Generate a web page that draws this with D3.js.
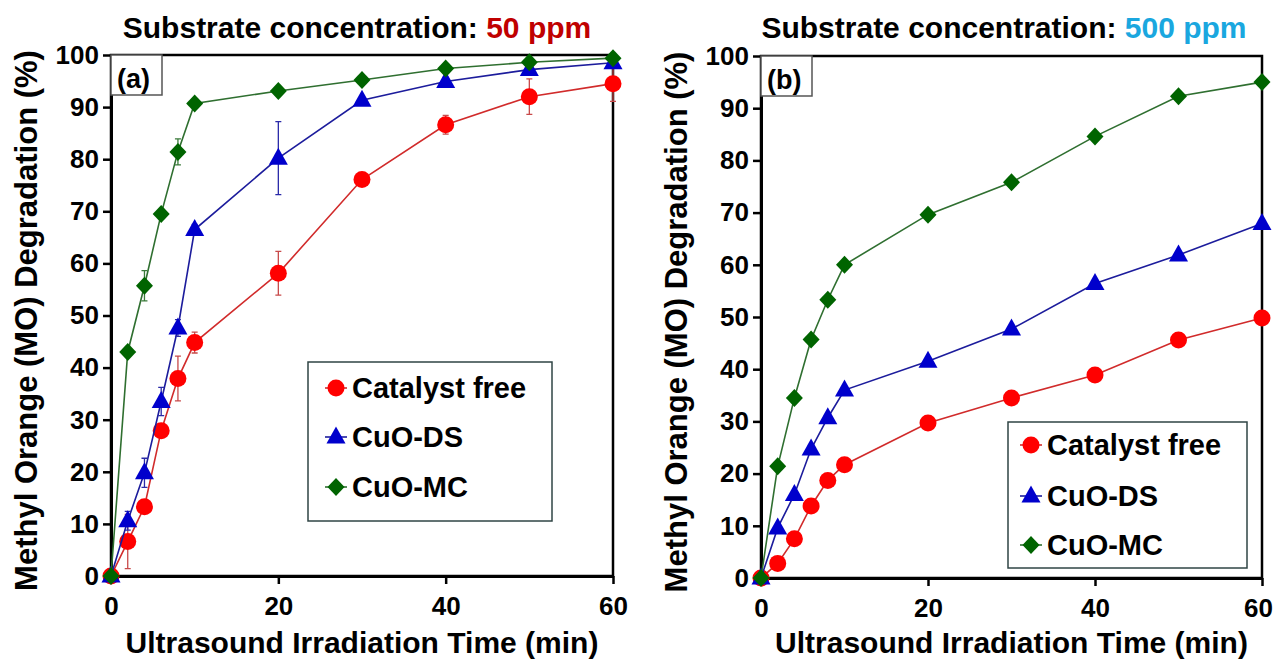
<!DOCTYPE html>
<html>
<head>
<meta charset="utf-8">
<script src="https://cdn.jsdelivr.net/npm/d3@7"></script>
<style>
  body { margin: 0; background: #fff; }
  svg { display: block; font-family: "Liberation Sans", Arial, sans-serif; font-weight: bold; }
</style>
</head>
<body>
<div id="chart"></div>
<script>
// sampling times (min), shared by both panels
const times = [0, 2, 4, 6, 8, 10, 20, 30, 40, 50, 60];
const seriesNames = ['Catalyst free', 'CuO-DS', 'CuO-MC'];
const yTicks = [0, 10, 20, 30, 40, 50, 60, 70, 80, 90, 100];
const xTicks = [0, 20, 40, 60];

// panel (a): 50 ppm
const freeA    = [0, 6.6, 13.3, 27.9, 37.9, 44.8, 58.1, 76.1, 86.6, 92.0, 94.5];
const freeAErr = [0, 5.2, 1.0, 1.0, 4.3, 2.0, 4.2, 0.8, 1.8, 3.4, 3.4];
const dsA      = [0, 10.6, 19.8, 33.5, 47.6, 66.5, 80.2, 91.3, 94.9, 97.2, 98.5];
const dsAErr   = [0, 1.8, 2.8, 2.7, 1.6, 1.0, 7.0, 0.8, 0.8, 0.8, 0.8];
const mcA      = [0, 43.0, 55.7, 69.5, 81.4, 90.7, 93.1, 95.2, 97.4, 98.6, 99.4];
const mcAErr   = [0, 0.8, 2.9, 0.8, 2.5, 0.5, 0.5, 0.5, 0.5, 0.5, 0.5];

// panel (b): 500 ppm
const freeB = [0, 2.8, 7.5, 13.8, 18.7, 21.7, 29.7, 34.5, 38.9, 45.6, 49.8];
const dsB   = [0, 9.6, 16.0, 24.7, 30.7, 36.0, 41.5, 47.7, 56.4, 61.9, 67.9];
const mcB   = [0, 21.4, 34.5, 45.7, 53.3, 60.0, 69.6, 75.8, 84.6, 92.3, 95.0];

const styles = [
  { marker: 'circle',   fill: '#ff0000', line: '#d12b2b', err: '#c84a4a' },
  { marker: 'triangle', fill: '#0000cc', line: '#1c1c9c', err: '#2a2aa8' },
  { marker: 'diamond',  fill: '#006400', line: '#2f6f30', err: '#3a7a3a' }
];

const W = 1274, H = 661;
const svg = d3.select('#chart').append('svg')
  .attr('width', W).attr('height', H)
  .attr('viewBox', `0 0 ${W} ${H}`);

function markerPath(kind) {
  if (kind === 'triangle') return 'M0,-10.5L9.5,6.5L-9.5,6.5Z';
  if (kind === 'diamond') return 'M0,-9L8.5,0L0,9L-8.5,0Z';
  return null;
}

function drawMarker(g, kind, fill, cx, cy) {
  if (kind === 'circle') {
    g.append('circle').attr('cx', cx).attr('cy', cy).attr('r', 8.5).attr('fill', fill);
  } else {
    g.append('path').attr('d', markerPath(kind))
      .attr('transform', `translate(${cx},${cy})`).attr('fill', fill);
  }
}

function drawPanel(p) {
  const x = d3.scaleLinear().domain([0, 60]).range([p.x0, p.x1]);
  const y = d3.scaleLinear().domain([0, 100]).range([p.yBot, p.yTop]);
  const g = svg.append('g');

  // frame
  g.append('rect')
    .attr('x', p.x0).attr('y', p.yTop)
    .attr('width', p.x1 - p.x0).attr('height', p.yBot - p.yTop)
    .attr('fill', 'none').attr('stroke', '#000').attr('stroke-width', 2.5);

  // axes
  const yAxis = g.append('g').attr('transform', `translate(${p.x0},0)`)
    .call(d3.axisLeft(y).tickValues(yTicks).tickSize(8).tickSizeOuter(0).tickPadding(4));
  const xAxis = g.append('g').attr('transform', `translate(0,${p.yBot})`)
    .call(d3.axisBottom(x).tickValues(xTicks).tickSize(8).tickSizeOuter(0).tickPadding(13));
  [yAxis, xAxis].forEach(a => {
    a.select('.domain').attr('stroke', '#000').attr('stroke-width', 3);
    a.selectAll('.tick line').attr('stroke', '#000').attr('stroke-width', 2.5);
    a.selectAll('.tick text').attr('fill', '#000')
      .style('font-size', '26px').style('font-weight', 'bold')
      .style('font-family', '"Liberation Sans", Arial, sans-serif');
  });
  // last x label sits right at the page edge, pull it in a bit
  xAxis.selectAll('.tick text').filter(d => d === 60).attr('dx', p.lastTickDx);

  // axis titles
  g.append('text')
    .attr('transform', `translate(${p.yLabelX},${(p.yTop + p.yBot) / 2 + 5}) rotate(-90)`)
    .attr('text-anchor', 'middle')
    .style('font-size', '31px')
    .text('Methyl Orange (MO) Degradation (%)');
  g.append('text')
    .attr('x', (p.x0 + p.x1) / 2).attr('y', 653)
    .attr('text-anchor', 'middle')
    .style('font-size', '30px')
    .text('Ultrasound Irradiation Time (min)');

  // panel title
  const t = g.append('text')
    .attr('x', p.titleX).attr('y', 38)
    .attr('text-anchor', 'middle')
    .style('font-size', '30px');
  t.append('tspan').attr('fill', '#000').text('Substrate concentration: ');
  t.append('tspan').attr('fill', p.ppmColor).text(p.ppm);

  // panel tag
  g.append('rect')
    .attr('x', p.x0).attr('y', p.yTop)
    .attr('width', 51).attr('height', 40)
    .attr('fill', '#fff').attr('stroke', '#555').attr('stroke-width', 1.5);
  g.append('text')
    .attr('x', p.x0 + 6).attr('y', p.yTop + 33)
    .style('font-size', '27px')
    .text(p.tag);

  const line = d3.line().x((d, i) => x(times[i])).y(d => y(d));

  p.series.forEach((vals, si) => {
    const st = styles[si];
    const sg = g.append('g');
    sg.append('path')
      .attr('d', line(vals))
      .attr('fill', 'none').attr('stroke', st.line).attr('stroke-width', 1.6);
    const errs = p.errors ? p.errors[si] : null;
    if (errs) {
      vals.forEach((v, i) => {
        const e = errs[i];
        if (!e) return;
        const cx = x(times[i]);
        sg.append('path')
          .attr('d', `M${cx},${y(v - e)}V${y(v + e)}M${cx - 3},${y(v - e)}H${cx + 3}M${cx - 3},${y(v + e)}H${cx + 3}`)
          .attr('fill', 'none').attr('stroke', st.err).attr('stroke-width', 1.3);
      });
    }
    vals.forEach((v, i) => drawMarker(sg, st.marker, st.fill, x(times[i]), y(v)));
  });

  // legend
  const L = p.legend;
  g.append('rect')
    .attr('x', L.x).attr('y', L.y).attr('width', L.w).attr('height', L.h)
    .attr('fill', '#fff').attr('stroke', '#2f4444').attr('stroke-width', 1.5);
  seriesNames.forEach((name, i) => {
    const st = styles[i];
    const cy = L.rowY[i];
    g.append('line')
      .attr('x1', L.symX - 11).attr('x2', L.symX + 11)
      .attr('y1', cy).attr('y2', cy)
      .attr('stroke', st.line).attr('stroke-width', 1.6);
    drawMarker(g, st.marker, st.fill, L.symX, cy);
    g.append('text')
      .attr('x', L.textX).attr('y', cy + 10)
      .style('font-size', '29px')
      .text(name);
  });
}

drawPanel({
  x0: 111, x1: 613, yTop: 55, yBot: 576, yLabelX: 37, lastTickDx: 0,
  titleX: 357, ppm: '50 ppm', ppmColor: '#c00000', tag: '(a)',
  series: [freeA, dsA, mcA],
  errors: [freeAErr, dsAErr, mcAErr],
  legend: { x: 308, y: 362, w: 244, h: 159, symX: 336, textX: 352, rowY: [388, 437, 487] }
});

drawPanel({
  x0: 761, x1: 1262, yTop: 56, yBot: 578, yLabelX: 687, lastTickDx: -4,
  titleX: 1004, ppm: '500 ppm', ppmColor: '#1aa7df', tag: '(b)',
  series: [freeB, dsB, mcB],
  errors: null,
  legend: { x: 1008, y: 422, w: 239, h: 146, symX: 1031, textX: 1047, rowY: [445, 496, 545] }
});
</script>
</body>
</html>
